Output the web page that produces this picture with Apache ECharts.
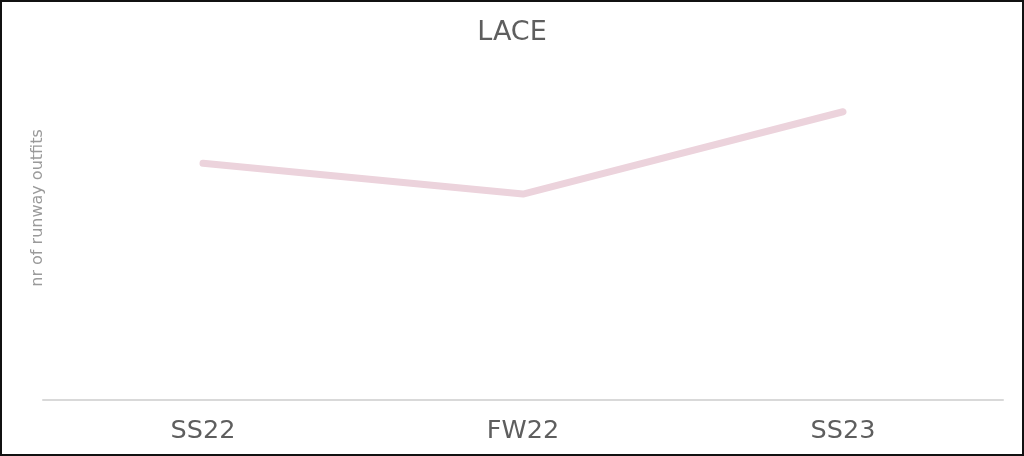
<!DOCTYPE html>
<html>
<head>
<meta charset="utf-8">
<script src="https://cdn.jsdelivr.net/npm/echarts@6/dist/echarts.min.js"></script>
<style>
html,body{margin:0;padding:0;background:#fff;}
#wrap{position:relative;width:1024px;height:456px;}
#chart{position:absolute;left:0;top:0;width:1024px;height:456px;}
#frame{position:absolute;left:0;top:0;width:1024px;height:456px;box-sizing:border-box;border:2px solid #111;pointer-events:none;}
</style>
</head>
<body>
<div id="wrap"><div id="chart"></div><div id="frame"></div></div>
<script>
const titleText = "LACE";
const yAxisName = "nr of runway outfits";
const categories = ["SS22", "FW22", "SS23"];
const laceValues = [23, 20, 28];

const chart = echarts.init(document.getElementById('chart'));
chart.setOption({
  backgroundColor: 'transparent',
  animation: false,
  title: {
    text: titleText,
    left: 'center',
    top: 14,
    textStyle: { fontFamily: 'DejaVu Sans', fontWeight: 'normal', fontSize: 27, color: '#5e5e5e' }
  },
  grid: { left: 43, right: 21, top: 16, bottom: 56 },
  xAxis: {
    type: 'category',
    data: categories,
    boundaryGap: true,
    axisLine: { show: true, lineStyle: { color: '#d9d9d9', width: 2 } },
    axisTick: { show: false },
    axisLabel: { fontFamily: 'DejaVu Sans', fontSize: 25.5, color: '#5e5e5e', margin: 18 }
  },
  yAxis: {
    type: 'value',
    min: 0,
    max: 37.3,
    name: yAxisName,
    nameLocation: 'middle',
    nameGap: -3,
    nameRotate: 90,
    nameTextStyle: { fontFamily: 'DejaVu Sans', fontSize: 16, color: '#9a9a9a' },
    axisLine: { show: false },
    axisTick: { show: false },
    axisLabel: { show: false },
    splitLine: { show: false }
  },
  series: [{
    type: 'line',
    data: laceValues,
    symbol: 'none',
    lineStyle: { color: '#ecd3dc', width: 7, cap: 'round', join: 'round' }
  }]
});
</script>
</body>
</html>
